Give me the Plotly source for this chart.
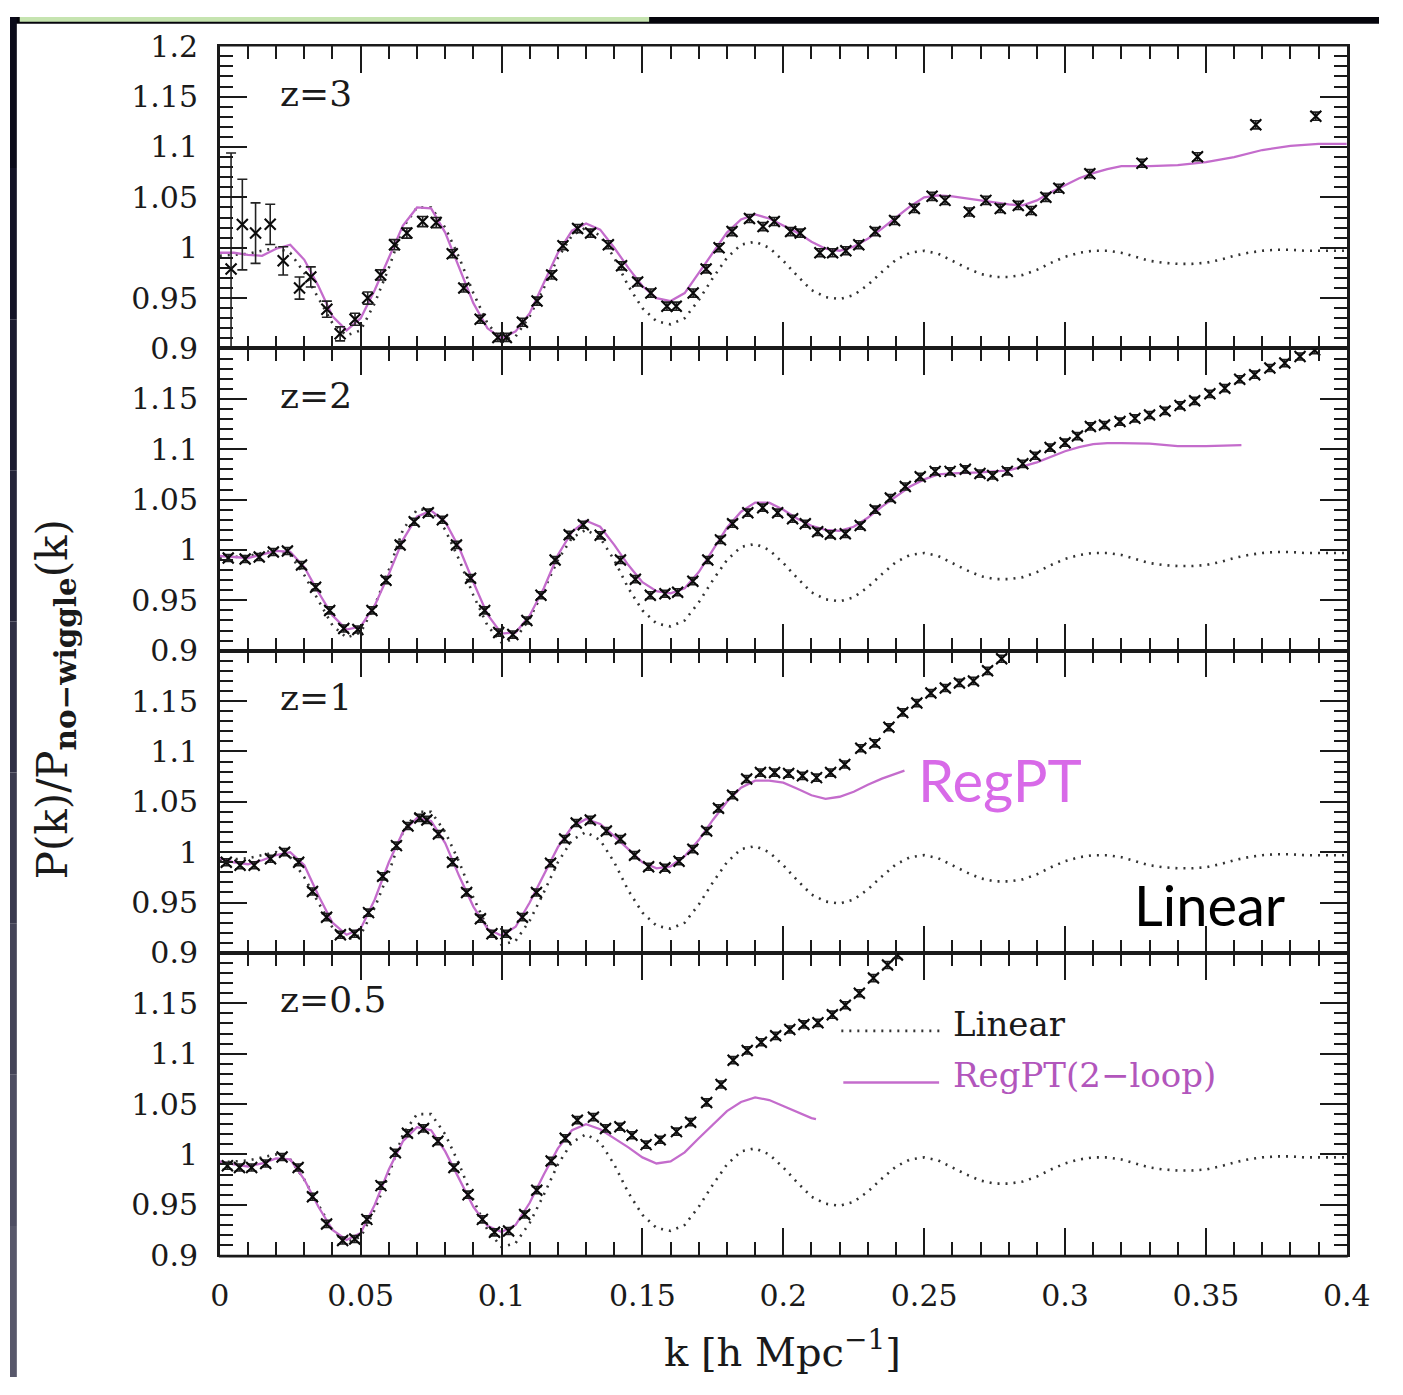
import plotly.graph_objects as go

W, H = 1403, 1395

# ---------------- data ----------------
K_TICKS = [0, 0.05, 0.1, 0.15, 0.2, 0.25, 0.3, 0.35, 0.4]
K_TICK_TEXT = ["0", "0.05", "0.1", "0.15", "0.2", "0.25", "0.3", "0.35", "0.4"]
Y_TICKS_TOP = [0.9, 0.95, 1.0, 1.05, 1.1, 1.15, 1.2]
Y_TICK_TEXT_TOP = ["0.9", "0.95", "1", "1.05", "1.1", "1.15", "1.2"]
Y_TICKS = [0.9, 0.95, 1.0, 1.05, 1.1, 1.15]
Y_TICK_TEXT = ["0.9", "0.95", "1", "1.05", "1.1", "1.15"]
PANEL_LABELS = ["z=3", "z=2", "z=1", "z=0.5"]

linear_k = [0.000, 0.005, 0.010, 0.015, 0.020, 0.025, 0.030, 0.035, 0.040, 0.045,
            0.050, 0.055, 0.060, 0.065, 0.070, 0.075, 0.080, 0.085, 0.090, 0.095,
            0.100, 0.105, 0.110, 0.115, 0.120, 0.125, 0.130, 0.135, 0.140, 0.145,
            0.150, 0.155, 0.160, 0.165, 0.170, 0.175, 0.180, 0.185, 0.190, 0.195,
            0.200, 0.205, 0.210, 0.215, 0.220, 0.225, 0.230, 0.235, 0.240, 0.245,
            0.250, 0.255, 0.260, 0.265, 0.270, 0.275, 0.280, 0.285, 0.290, 0.295,
            0.300, 0.305, 0.310, 0.315, 0.320, 0.325, 0.330, 0.335, 0.340, 0.345,
            0.350, 0.355, 0.360, 0.365, 0.370, 0.375, 0.380, 0.385, 0.390, 0.395,
            0.400]
linear_v = [0.992, 0.993, 0.994, 0.997, 1.000, 0.995, 0.975, 0.950, 0.925, 0.913,
            0.918, 0.945, 0.980, 1.020, 1.040, 1.040, 1.020, 0.990, 0.955, 0.925,
            0.908, 0.912, 0.932, 0.960, 0.990, 1.012, 1.020, 1.012, 0.990, 0.962,
            0.940, 0.927, 0.924, 0.930, 0.948, 0.970, 0.990, 1.003, 1.006, 1.000,
            0.987, 0.972, 0.958, 0.951, 0.949, 0.953, 0.963, 0.976, 0.988, 0.995,
            0.997, 0.994, 0.987, 0.980, 0.974, 0.971, 0.971, 0.973, 0.978, 0.985,
            0.991, 0.995, 0.997, 0.997, 0.995, 0.991, 0.987, 0.985, 0.984, 0.984,
            0.985, 0.988, 0.992, 0.995, 0.997, 0.998, 0.998, 0.997, 0.997, 0.997,
            0.997]

# z = 3
regpt_z3_k = [0.0, 0.005, 0.01, 0.015, 0.02, 0.025, 0.03, 0.035, 0.04, 0.045,
              0.05, 0.055, 0.06, 0.065, 0.07, 0.075, 0.08, 0.085, 0.09, 0.095,
              0.1, 0.105, 0.11, 0.115, 0.12, 0.125, 0.13, 0.135, 0.14, 0.145,
              0.15, 0.155, 0.16, 0.165, 0.17, 0.175, 0.18, 0.185, 0.19, 0.195,
              0.2, 0.205, 0.21, 0.215, 0.22, 0.225, 0.23, 0.235, 0.24, 0.245,
              0.25, 0.255, 0.26, 0.265, 0.27, 0.275, 0.28, 0.285, 0.29, 0.295,
              0.3, 0.305, 0.31, 0.315, 0.32, 0.33, 0.34, 0.35, 0.36, 0.37,
              0.38, 0.39, 0.4]
regpt_z3_v = [0.995, 0.995, 0.993, 0.992, 0.999, 1.003, 0.988, 0.962, 0.932, 0.918,
              0.930, 0.958, 0.990, 1.022, 1.040, 1.039, 1.015, 0.980, 0.945, 0.920,
              0.910, 0.917, 0.935, 0.965, 0.995, 1.017, 1.024, 1.018, 1.000, 0.980,
              0.962, 0.950, 0.947, 0.955, 0.975, 0.995, 1.015, 1.028, 1.033, 1.029,
              1.022, 1.015, 1.006, 0.999, 0.997, 1.001, 1.009, 1.019, 1.030, 1.041,
              1.050, 1.052, 1.051, 1.049, 1.047, 1.045, 1.043, 1.042, 1.047, 1.055,
              1.062, 1.069, 1.074, 1.078, 1.081, 1.081, 1.082, 1.085, 1.090, 1.097,
              1.101, 1.103, 1.103]
nbody_z3_k = [0.004, 0.008, 0.0127, 0.0179, 0.0225, 0.0283, 0.0323, 0.038, 0.0427, 0.048,
              0.0525, 0.0571, 0.062, 0.0664, 0.072, 0.0768, 0.0825, 0.0866, 0.0924, 0.0987,
              0.1017, 0.1074, 0.1126, 0.1178, 0.1218, 0.127, 0.1316, 0.1379, 0.1426, 0.1483,
              0.153, 0.1587, 0.162, 0.168, 0.1726, 0.1772, 0.1818, 0.188, 0.1928, 0.1968,
              0.2026, 0.206, 0.213, 0.2175, 0.2222, 0.2268, 0.2326, 0.2395, 0.2465, 0.2528,
              0.2574, 0.266, 0.2719, 0.277, 0.2834, 0.288, 0.2932, 0.2978, 0.3088, 0.3273,
              0.347, 0.3677, 0.389]
nbody_z3_v = [0.979, 1.023, 1.0145, 1.0232, 0.987, 0.960, 0.971, 0.939, 0.9145, 0.929,
              0.950, 0.973, 1.003, 1.0145, 1.026, 1.025, 0.994, 0.960, 0.929, 0.911,
              0.911, 0.926, 0.947, 0.973, 1.002, 1.019, 1.0145, 1.003, 0.982, 0.966,
              0.955, 0.942, 0.942, 0.955, 0.979, 1.000, 1.016, 1.029, 1.021, 1.026,
              1.016, 1.0145, 0.995, 0.995, 0.997, 1.003, 1.016, 1.027, 1.039, 1.051,
              1.047, 1.0355, 1.047, 1.039, 1.042, 1.037, 1.050, 1.059, 1.0735, 1.0839,
              1.0903, 1.122, 1.1306]
nbody_z3_err = [0.115, 0.045, 0.030, 0.020, 0.014, 0.011, 0.010, 0.008, 0.007, 0.006,
                0.006, 0.005, 0.005, 0.005, 0.005, 0.005, 0.004, 0.004, 0.004, 0.004,
                0.004, 0.004, 0.004, 0.004, 0.004, 0.004, 0.004, 0.004, 0.004, 0.004,
                0.004, 0.004, 0.004, 0.004, 0.004, 0.004, 0.004, 0.004, 0.004, 0.004,
                0.004, 0.004, 0.004, 0.004, 0.004, 0.004, 0.004, 0.004, 0.004, 0.004,
                0.004, 0.004, 0.004, 0.004, 0.004, 0.004, 0.004, 0.004, 0.004, 0.004,
                0.004, 0.004, 0.004]

# z = 2
regpt_z2_k = [0.0, 0.01, 0.02, 0.025, 0.03, 0.035, 0.04, 0.045, 0.05, 0.055,
              0.06, 0.065, 0.07, 0.075, 0.08, 0.085, 0.09, 0.095, 0.1, 0.105,
              0.11, 0.115, 0.12, 0.125, 0.13, 0.135, 0.14, 0.145, 0.15, 0.155,
              0.16, 0.165, 0.17, 0.175, 0.18, 0.185, 0.19, 0.195, 0.2, 0.205,
              0.21, 0.215, 0.22, 0.225, 0.23, 0.235, 0.24, 0.245, 0.25, 0.255,
              0.26, 0.27, 0.28, 0.29, 0.3, 0.305, 0.31, 0.315, 0.32, 0.33,
              0.34, 0.35, 0.3626]
regpt_z2_v = [0.994, 0.992, 0.999, 0.998, 0.983, 0.958, 0.935, 0.921, 0.924, 0.945,
              0.976, 1.010, 1.033, 1.039, 1.028, 1.002, 0.968, 0.936, 0.917, 0.918,
              0.935, 0.962, 0.995, 1.018, 1.029, 1.023, 1.005, 0.985, 0.968, 0.959,
              0.957, 0.962, 0.978, 1.000, 1.022, 1.038, 1.047, 1.047, 1.040, 1.031,
              1.024, 1.020, 1.019, 1.023, 1.032, 1.043, 1.053, 1.063, 1.070, 1.075,
              1.076, 1.077, 1.079, 1.087, 1.098, 1.102, 1.105, 1.106, 1.106, 1.1055,
              1.103, 1.103, 1.104]
nbody_z2_k = [0.003, 0.009, 0.014, 0.019, 0.024, 0.029, 0.034, 0.039, 0.044, 0.049,
              0.054, 0.059, 0.064, 0.069, 0.074, 0.079, 0.084, 0.089, 0.094, 0.099,
              0.104, 0.109, 0.114, 0.119, 0.124, 0.129, 0.135, 0.1422, 0.1475, 0.1528,
              0.158, 0.1625, 0.1679, 0.1732, 0.1777, 0.182, 0.1874, 0.1927, 0.198, 0.2033,
              0.2078, 0.2122, 0.2167, 0.222, 0.2273, 0.2326, 0.238, 0.2433, 0.2486, 0.2539,
              0.2592, 0.2646, 0.2698, 0.2743, 0.2795, 0.285, 0.2894, 0.2947, 0.300, 0.3044,
              0.309, 0.314, 0.3195, 0.3248, 0.330, 0.3355, 0.3408, 0.346, 0.3514, 0.3567,
              0.362, 0.3673, 0.3727, 0.378, 0.3834, 0.3886]
nbody_z2_v = [0.992, 0.991, 0.993, 0.998, 0.999, 0.985, 0.963, 0.940, 0.922, 0.921,
              0.940, 0.970, 1.005, 1.028, 1.037, 1.030, 1.005, 0.972, 0.940, 0.918,
              0.916, 0.930, 0.955, 0.990, 1.015, 1.025, 1.0145, 0.990, 0.971, 0.955,
              0.9565, 0.958, 0.969, 0.990, 1.010, 1.026, 1.037, 1.042, 1.037, 1.031,
              1.026, 1.018, 1.0155, 1.016, 1.0242, 1.040, 1.0516, 1.063, 1.0726, 1.078,
              1.078, 1.080, 1.0758, 1.074, 1.078, 1.0855, 1.0935, 1.1016, 1.1065, 1.113,
              1.1226, 1.124, 1.1274, 1.1306, 1.134, 1.138, 1.1435, 1.148, 1.155, 1.1606,
              1.1694, 1.174, 1.1806, 1.1855, 1.192, 1.1984]

# z = 1
regpt_z1_k = [0.0, 0.005, 0.01, 0.015, 0.02, 0.025, 0.03, 0.035, 0.04, 0.045,
              0.05, 0.055, 0.06, 0.065, 0.07, 0.075, 0.08, 0.085, 0.09, 0.095,
              0.1, 0.105, 0.11, 0.115, 0.12, 0.125, 0.13, 0.135, 0.14, 0.145,
              0.15, 0.155, 0.16, 0.165, 0.17, 0.175, 0.18, 0.185, 0.19, 0.195,
              0.2, 0.205, 0.21, 0.215, 0.22, 0.225, 0.23, 0.235, 0.24, 0.243]
regpt_z1_v = [0.994, 0.990, 0.988, 0.992, 0.997, 1.000, 0.987, 0.957, 0.930, 0.918,
              0.924, 0.953, 0.990, 1.020, 1.034, 1.031, 1.009, 0.976, 0.946, 0.924,
              0.917, 0.926, 0.950, 0.978, 1.005, 1.025, 1.033, 1.028, 1.016, 1.003,
              0.990, 0.984, 0.986, 0.996, 1.012, 1.032, 1.050, 1.064, 1.071, 1.071,
              1.069, 1.063, 1.0565, 1.053, 1.055, 1.060, 1.067, 1.073, 1.078, 1.081]
nbody_z1_k = [0.0023, 0.0072, 0.0122, 0.018, 0.023, 0.028, 0.0329, 0.0379, 0.0428, 0.0478,
              0.0528, 0.0578, 0.0627, 0.0668, 0.071, 0.0735, 0.0776, 0.0826, 0.0876, 0.0925,
              0.0966, 0.1016, 0.1074, 0.1124, 0.1174, 0.1224, 0.1265, 0.1315, 0.1372, 0.1422,
              0.1472, 0.1522, 0.158, 0.163, 0.1679, 0.1728, 0.177, 0.182, 0.187, 0.1919,
              0.1969, 0.2019, 0.2068, 0.2118, 0.2168, 0.2218, 0.2275, 0.2325, 0.2375, 0.2424,
              0.2474, 0.2524, 0.2575, 0.2625, 0.2675, 0.2725, 0.2775]
nbody_z1_v = [0.990, 0.987, 0.987, 0.9935, 1.000, 0.990, 0.961, 0.9355, 0.918, 0.919,
              0.940, 0.976, 1.0065, 1.026, 1.034, 1.032, 1.018, 0.990, 0.960, 0.934,
              0.919, 0.919, 0.9355, 0.960, 0.989, 1.013, 1.029, 1.032, 1.021, 1.013,
              0.997, 0.9855, 0.9845, 0.991, 1.003, 1.021, 1.0435, 1.0565, 1.0726, 1.079,
              1.079, 1.078, 1.0758, 1.074, 1.079, 1.087, 1.1032, 1.108, 1.124, 1.1387,
              1.148, 1.158, 1.163, 1.168, 1.170, 1.180, 1.192]

# z = 0.5
regpt_z05_k = [0.0, 0.005, 0.01, 0.015, 0.02, 0.025, 0.03, 0.035, 0.04, 0.045,
               0.05, 0.055, 0.06, 0.065, 0.07, 0.075, 0.08, 0.085, 0.09, 0.095,
               0.1, 0.105, 0.11, 0.115, 0.12, 0.125, 0.13, 0.135, 0.14, 0.145,
               0.15, 0.155, 0.16, 0.165, 0.17, 0.175, 0.18, 0.185, 0.19, 0.195,
               0.2, 0.205, 0.21, 0.2116]
regpt_z05_v = [0.993, 0.990, 0.988, 0.991, 0.996, 0.995, 0.975, 0.948, 0.925, 0.915,
               0.922, 0.950, 0.985, 1.013, 1.027, 1.024, 1.003, 0.975, 0.948, 0.929,
               0.923, 0.930, 0.952, 0.980, 1.006, 1.024, 1.030, 1.025, 1.016, 1.007,
               0.997, 0.991, 0.993, 1.002, 1.016, 1.030, 1.043, 1.052, 1.0565, 1.054,
               1.048, 1.042, 1.036, 1.035]
nbody_z05_k = [0.0027, 0.007, 0.0113, 0.0163, 0.0221, 0.0278, 0.0329, 0.0379, 0.0436, 0.0479,
               0.0522, 0.0572, 0.0623, 0.0666, 0.0723, 0.0774, 0.0831, 0.0881, 0.0932, 0.0975,
               0.1025, 0.1082, 0.1125, 0.1176, 0.1226, 0.1269, 0.1326, 0.1369, 0.142, 0.1463,
               0.1513, 0.1563, 0.1621, 0.1671, 0.1728, 0.1779, 0.1822, 0.1872, 0.1922, 0.1973,
               0.2023, 0.2073, 0.2123, 0.2174, 0.222, 0.227, 0.232, 0.237, 0.2405]
nbody_z05_v = [0.9887, 0.987, 0.987, 0.991, 0.9974, 0.987, 0.958, 0.931, 0.9145, 0.916,
               0.9355, 0.969, 1.0016, 1.021, 1.0258, 1.013, 0.987, 0.960, 0.9355, 0.9226,
               0.924, 0.9403, 0.9645, 0.9935, 1.016, 1.034, 1.037, 1.0258, 1.0274, 1.019,
               1.0097, 1.0145, 1.0226, 1.032, 1.0516, 1.0694, 1.0935, 1.1032, 1.1113, 1.1177,
               1.124, 1.129, 1.1306, 1.1387, 1.148, 1.160, 1.175, 1.188, 1.198]

# ---------------- styling ----------------
MAGENTA = "#c46ccc"
MAGENTA_TXT = "#b256bc"
SLIDE_MAGENTA = "#d86ae8"
INK = "#1a1a1a"
SERIF = "DejaVu Serif"

X0, X1 = 215, 1370
PANEL_TOPS = [30, 340, 650, 960]
PANEL_H = 310


def px_x(x):
    return x / W


def px_y(y):
    return 1 - y / H


fig = go.Figure()

panels = [
    (regpt_z3_k, regpt_z3_v, nbody_z3_k, nbody_z3_v, nbody_z3_err),
    (regpt_z2_k, regpt_z2_v, nbody_z2_k, nbody_z2_v, None),
    (regpt_z1_k, regpt_z1_v, nbody_z1_k, nbody_z1_v, None),
    (regpt_z05_k, regpt_z05_v, nbody_z05_k, nbody_z05_v, None),
]

layout_axes = {}
for i, (rk, rv, dk, dv, de) in enumerate(panels):
    sfx = "" if i == 0 else str(i + 1)
    xa, ya = "x" + sfx, "y" + sfx
    fig.add_trace(go.Scatter(x=linear_k, y=linear_v, mode="lines",
                             line=dict(color="#333333", width=2.6, dash="2px,6px"),
                             xaxis=xa, yaxis=ya, showlegend=False, hoverinfo="skip"))
    fig.add_trace(go.Scatter(x=rk, y=rv, mode="lines",
                             line=dict(color=MAGENTA, width=2.3),
                             xaxis=xa, yaxis=ya, showlegend=False))
    if de is not None:
        err = dict(type="data", array=de, visible=True, thickness=1.6, width=5, color="#222222")
    else:
        err = dict(type="constant", value=0.0035, visible=True, thickness=1.6, width=5, color="#222222")
    fig.add_trace(go.Scatter(x=dk, y=dv, mode="markers",
                             marker=dict(symbol="x-thin", size=11, line=dict(width=2.1, color="#0a0a0a")),
                             error_y=err, xaxis=xa, yaxis=ya, showlegend=False))

    top = PANEL_TOPS[i]
    ydom = [px_y(top + PANEL_H), px_y(top)]
    layout_axes["xaxis" + sfx] = dict(
        domain=[px_x(X0), px_x(X1)], range=[0, 0.4], anchor=ya,
        tickmode="array", tickvals=K_TICKS, ticktext=K_TICK_TEXT,
        showticklabels=(i == 3), ticks="inside", ticklen=27, tickwidth=2, tickcolor=INK,
        minor=dict(tickmode="linear", tick0=0, dtick=0.01, ticks="inside", ticklen=13,
                   tickwidth=2, tickcolor=INK, showgrid=False),
        showline=True, linewidth=1.6, linecolor=INK, mirror="allticks",
        showgrid=False, zeroline=False, ticklabelstandoff=13,
        tickfont=dict(family=SERIF, size=30, color=INK),
    )
    layout_axes["yaxis" + sfx] = dict(
        domain=ydom, range=[0.9, 1.2], anchor=xa,
        tickmode="array",
        tickvals=(Y_TICKS_TOP if i == 0 else Y_TICKS),
        ticktext=(Y_TICK_TEXT_TOP if i == 0 else Y_TICK_TEXT),
        ticks="inside", ticklen=27, tickwidth=2, tickcolor=INK,
        minor=dict(tickmode="linear", tick0=0.9, dtick=0.01, ticks="inside", ticklen=13,
                   tickwidth=2, tickcolor=INK, showgrid=False),
        showline=True, linewidth=2.5, linecolor=INK, mirror="allticks",
        showgrid=False, zeroline=False, ticklabelstandoff=13,
        tickfont=dict(family=SERIF, size=30, color=INK),
    )

annotations = []
for i, lab in enumerate(PANEL_LABELS):
    sfx = "" if i == 0 else str(i + 1)
    annotations.append(dict(text=lab, x=0.0205, y=1.1535, xref="x" + sfx, yref="y" + sfx,
                            xanchor="left", yanchor="middle", showarrow=False,
                            font=dict(family=SERIF, size=36, color=INK)))

# legend inside z=0.5 panel
annotations.append(dict(text="Linear", x=0.2595, y=1.129, xref="x4", yref="y4",
                        xanchor="left", yanchor="middle", showarrow=False,
                        font=dict(family=SERIF, size=34, color=INK)))
annotations.append(dict(text="RegPT(2\u2212loop)", x=0.2595, y=1.079, xref="x4", yref="y4",
                        xanchor="left", yanchor="middle", showarrow=False,
                        font=dict(family=SERIF, size=34, color=MAGENTA_TXT)))

# axis titles
annotations.append(dict(text="k [h Mpc<sup>\u22121</sup>]", x=px_x(792), y=px_y(1366),
                        xref="paper", yref="paper", xanchor="center", yanchor="middle",
                        showarrow=False, font=dict(family=SERIF, size=40, color=INK)))
annotations.append(dict(text="P(k)/P<sub><b>no\u2212wiggle</b></sub>(k)", x=px_x(47), y=px_y(700),
                        xref="paper", yref="paper", xanchor="center", yanchor="middle",
                        textangle=-90, showarrow=False,
                        font=dict(family=SERIF, size=42, color=INK)))

# slide overlay labels
annotations.append(dict(text="RegPT", x=px_x(1015), y=px_y(782), xref="paper", yref="paper",
                        xanchor="center", yanchor="middle", showarrow=False,
                        font=dict(family="Lato", size=58, color=SLIDE_MAGENTA)))
annotations.append(dict(text="Linear", x=px_x(1229), y=px_y(910), xref="paper", yref="paper",
                        xanchor="center", yanchor="middle", showarrow=False,
                        font=dict(family="Lato", size=56, color="#000000")))

shapes = []
# legend sample lines
shapes.append(dict(type="line", xref="x4", yref="y4", x0=0.2206, x1=0.2563, y0=1.1226, y1=1.1226,
                   line=dict(color="#333333", width=2.6, dash="2px,6px")))
shapes.append(dict(type="line", xref="x4", yref="y4", x0=0.2213, x1=0.2553, y0=1.0713, y1=1.0713,
                   line=dict(color=MAGENTA, width=2.4)))

# thicker outer top / bottom frame edges
shapes.append(dict(type="line", xref="paper", yref="paper", x0=px_x(X0 - 1), x1=px_x(X1 + 1),
                   y0=px_y(PANEL_TOPS[0] - 1), y1=px_y(PANEL_TOPS[0] - 1),
                   line=dict(color=INK, width=2.6), layer="above"))
shapes.append(dict(type="line", xref="paper", yref="paper", x0=px_x(X0 - 1), x1=px_x(X1 + 1),
                   y0=px_y(PANEL_TOPS[3] + PANEL_H + 1), y1=px_y(PANEL_TOPS[3] + PANEL_H + 1),
                   line=dict(color=INK, width=2.6), layer="above"))

# slide frame: top black band with green tab, dark left edge
shapes.append(dict(type="rect", xref="paper", yref="paper", x0=0, x1=1, y0=px_y(7), y1=1,
                   fillcolor="#05050c", line=dict(width=0), layer="above"))
shapes.append(dict(type="rect", xref="paper", yref="paper", x0=px_x(10), x1=px_x(655),
                   y0=px_y(5), y1=1, fillcolor="#c6e4b0", line=dict(width=0), layer="above"))
edge_cols = ["#0b0b1a", "#131326", "#1c1c30", "#25253a", "#2f2f44", "#3a3a4e", "#444458", "#4e4e62", "#58586b"]
nb = len(edge_cols)
for j, c in enumerate(edge_cols):
    shapes.append(dict(type="rect", xref="paper", yref="paper", x0=0, x1=px_x(7),
                       y0=1 - (j + 1) / nb, y1=1 - j / nb, fillcolor=c,
                       line=dict(width=0), layer="above"))

fig.update_layout(
    width=W, height=H, autosize=False,
    margin=dict(l=0, r=0, t=0, b=0, pad=0),
    paper_bgcolor="white", plot_bgcolor="white",
    showlegend=False,
    annotations=annotations, shapes=shapes,
    **layout_axes,
)

fig.write_html("out.html")
